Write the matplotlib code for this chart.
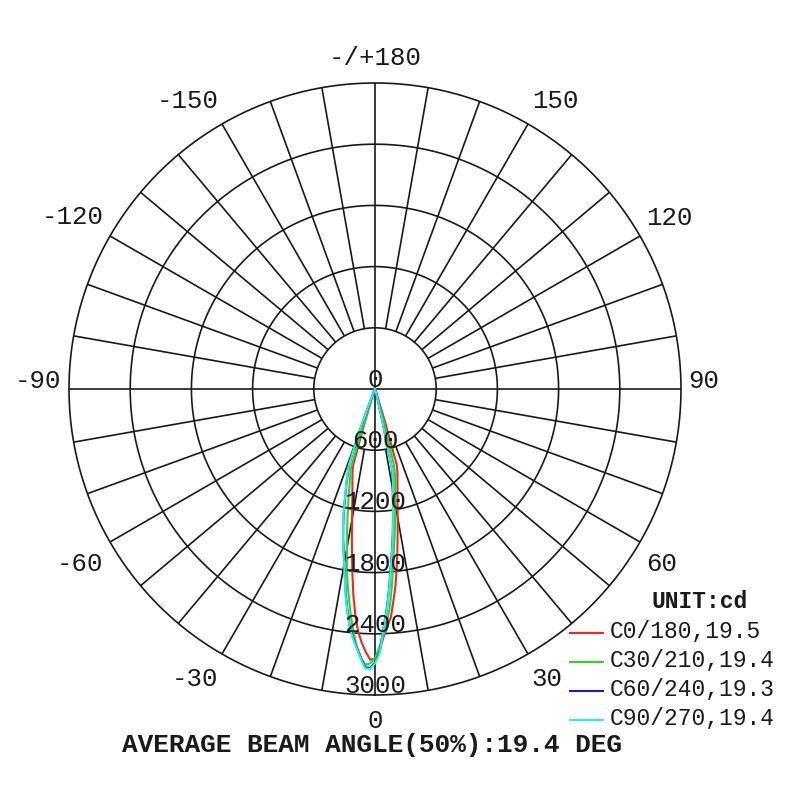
import numpy as np
import matplotlib
matplotlib.use("Agg")
import matplotlib.pyplot as plt
from matplotlib.lines import Line2D

# ---------------- data ----------------
GAMMA = [0, 1, 2, 3, 4, 5, 6, 7, 8, 9, 10, 11, 12, 13, 14, 15, 16, 17, 18,
         19, 20, 21, 22, 23, 25, 30, 90]

# right-hand half-planes (positive gamma)
C0 = [2640, 2560, 2430, 2330, 2240, 2080, 1930, 1750, 1580, 1420, 1280, 1160,
      1060, 980, 910, 850, 770, 330, 90, 25, 5, 0, 0, 0, 0, 0, 0]
C30 = [2640, 2530, 2410, 2280, 2120, 1920, 1700, 1540, 1400, 1260, 1140, 1040,
       950, 880, 760, 320, 90, 25, 5, 0, 0, 0, 0, 0, 0, 0, 0]
C60 = [2680, 2580, 2350, 2170, 1970, 1760, 1590, 1430, 1270, 1120, 1000, 910,
       820, 300, 80, 20, 5, 0, 0, 0, 0, 0, 0, 0, 0, 0, 0]
C90 = [2690, 2590, 2360, 2180, 1980, 1770, 1600, 1440, 1280, 1130, 1010, 920,
       830, 300, 80, 20, 5, 0, 0, 0, 0, 0, 0, 0, 0, 0, 0]

# left-hand half-planes (negative gamma)
C180 = [2640, 2655, 2580, 2490, 2380, 2220, 2030, 1820, 1620, 1450, 1290, 1170,
        1065, 985, 915, 855, 780, 380, 110, 30, 5, 0, 0, 0, 0, 0, 0]
C210 = [2640, 2690, 2706, 2640, 2540, 2400, 2250, 2083, 1930, 1760, 1580, 1430,
        1300, 1170, 1060, 960, 880, 810, 400, 120, 30, 5, 0, 0, 0, 0, 0]
C240 = [2680, 2735, 2730, 2640, 2545, 2450, 2350, 2200, 2050, 1880, 1735, 1610,
        1500, 1385, 1270, 1150, 1040, 950, 860, 780, 490, 200, 60, 15, 0, 0, 0]
C270 = [2690, 2745, 2740, 2650, 2555, 2460, 2360, 2210, 2060, 1890, 1745, 1620,
        1510, 1395, 1280, 1160, 1050, 960, 870, 790, 500, 200, 60, 15, 0, 0, 0]

SERIES = ["C0/180", "C30/210", "C60/240", "C90/270"]
BEAM_ANGLES = [19.5, 19.4, 19.3, 19.4]
AVERAGE_BEAM = 19.4
RIGHT_HALVES = [C0, C30, C60, C90]
LEFT_HALVES = [C180, C210, C240, C270]
COLORS = ["#ff2020", "#1ee01e", "#1818e0", "#1ef0f0"]

RING_VALUES = [600, 1200, 1800, 2400, 3000]
RMAX = 3000
ANGLE_TICKS = [0, 30, 60, 90, 120, 150, 180, -150, -120, -90, -60, -30]
ANGLE_LABELS = ["0", "30", "60", "90", "120", "150", "-/+180",
                "-150", "-120", "-90", "-60", "-30"]

# ---------------- figure ----------------
W = H = 800
fig = plt.figure(figsize=(8, 8), dpi=100)
cx, cy, R = 375, 389, 306
ax = fig.add_axes([(cx - R) / W, (H - cy - R) / H, 2 * R / W, 2 * R / H],
                  projection="polar")
ax.set_theta_zero_location("S")
ax.set_theta_direction(1)
ax.set_ylim(0, RMAX)
ax.set_axis_off()

MONO = ["Liberation Mono", "DejaVu Sans Mono"]
GRID = "#1a1a1a"
glw = 1.2

# rings
tt = np.linspace(0, 2 * np.pi, 721)
for rv in RING_VALUES:
    ax.plot(tt, np.full_like(tt, rv), color=GRID, lw=glw, zorder=1,
            clip_on=False)
# spokes every 10 degrees
for d in range(0, 360, 10):
    th = np.deg2rad(d)
    r0 = 0 if d % 90 == 0 else RING_VALUES[0]
    ax.plot([th, th], [r0, RMAX], color=GRID, lw=glw, zorder=1,
            clip_on=False, solid_capstyle="butt")

# curves
g = np.array(GAMMA, dtype=float)
for right, left, col in zip(RIGHT_HALVES, LEFT_HALVES, COLORS):
    ang = np.concatenate([-g[::-1], g[1:]])
    val = np.concatenate([np.array(left)[::-1], np.array(right)[1:]])
    ax.plot(np.deg2rad(ang), val, color=col, lw=1.5, zorder=3,
            solid_joinstyle="round", clip_on=False)

# ring labels
TXT = "#1a1a1a"
for rv in [0] + RING_VALUES:
    ax.annotate(str(rv), xy=(0, rv), xytext=(0, 1.5), textcoords="offset points",
                ha="center", va="baseline", fontsize=18.5, family=MONO,
                color=TXT, zorder=5, annotation_clip=False)

# angle labels
PX2PT = 72 / 100
for a, lab in zip(ANGLE_TICKS, ANGLE_LABELS):
    s, c = np.sin(np.deg2rad(a)), np.cos(np.deg2rad(a))
    ha = "left" if s > 0.01 else ("right" if s < -0.01 else "center")
    dx = 7.5 * s
    if c > 0.01:
        va, dy = "top", -14 * np.sqrt(c)
    elif c < -0.01:
        va, dy = "bottom", 13 * abs(c)
    else:
        va, dy = "baseline", 1
    ax.annotate(lab, xy=(np.deg2rad(a), RMAX),
                xytext=(dx * PX2PT, dy * PX2PT), textcoords="offset points",
                ha=ha, va=va, fontsize=18.5, family=MONO, color=TXT,
                annotation_clip=False)

# legend
fig.text(700 / W, 1 - 608 / H, "UNIT:cd", ha="center", va="baseline",
         fontsize=16.5, family=MONO, fontweight="bold", color=TXT)
base = [638, 667, 696, 725]
for name, ba, col, yb in zip(SERIES, BEAM_ANGLES, COLORS, base):
    yl = 1 - (yb - 5) / H
    fig.add_artist(Line2D([570 / W, 603 / W], [yl, yl], color=col, lw=1.5,
                          transform=fig.transFigure))
    fig.text(610 / W, 1 - yb / H, f"{name},{ba}", ha="left", va="baseline",
             fontsize=16.5, family=MONO, color=TXT)

# bottom caption
fig.text(372.5 / W, 1 - 752 / H, f"AVERAGE BEAM ANGLE(50%):{AVERAGE_BEAM} DEG",
         ha="center", va="baseline", fontsize=18.8, family=MONO,
         fontweight="bold", color=TXT)

fig.savefig("out.png", dpi=100, facecolor="white")
